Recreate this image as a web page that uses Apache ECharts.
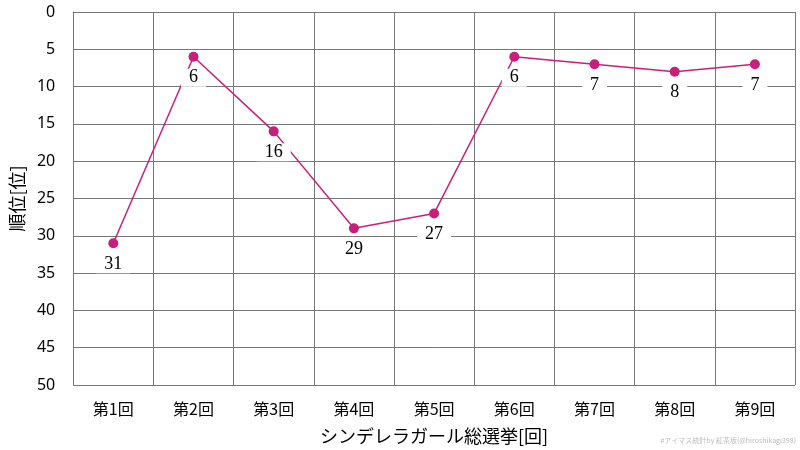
<!DOCTYPE html>
<html><head><meta charset="utf-8">
<script src="https://cdn.jsdelivr.net/npm/echarts@6/dist/echarts.min.js"></script>
<style>html,body{margin:0;padding:0;background:#fff}#c{width:800px;height:450px}</style>
</head><body><div id="c"></div>
<script>
const categories = ['第1回','第2回','第3回','第4回','第5回','第6回','第7回','第8回','第9回'];
const ranks = [31,6,16,29,27,6,7,8,7];
const yTicks = {min:0,max:50,interval:5};
const font = '"Liberation Serif","Noto Sans CJK JP",serif';
const chart = echarts.init(document.getElementById('c'));
chart.setOption({
  animation:false,
  grid:{left:70,right:5,top:12,bottom:65},
  xAxis:{type:'category',data:categories,boundaryGap:true,
    name:'シンデレラガール総選挙[回]',nameLocation:'middle',nameGap:42,
    nameTextStyle:{fontFamily:'"Noto Sans CJK JP"',fontSize:18,color:'#000'},
    axisLine:{lineStyle:{color:'#777'}},axisTick:{show:false},
    axisLabel:{fontFamily:'"Noto Sans CJK JP"',fontSize:16,color:'#000',margin:16},
    splitLine:{show:true,interval:0,lineStyle:{color:'#777'}}},
  yAxis:{type:'value',inverse:true,min:yTicks.min,max:yTicks.max,interval:yTicks.interval,
    name:'順位[位]',nameLocation:'middle',nameGap:46,
    nameTextStyle:{fontFamily:'"Noto Sans CJK JP"',fontSize:18,color:'#000'},
    axisLine:{show:true,lineStyle:{color:'#777'}},axisTick:{show:false},
    axisLabel:{fontFamily:'"Noto Sans"',fontSize:16,color:'#000',margin:18},
    splitLine:{lineStyle:{color:'#777'}}},
  series:[{type:'line',data:ranks,symbol:'circle',symbolSize:10,
    itemStyle:{color:'#c8207a'},lineStyle:{color:'#c8207a',width:1.5},
    label:{show:true,position:'bottom',distance:7,fontFamily:font,fontSize:18,color:'#000',
      backgroundColor:'#fff',padding:[0,8]}}],
  graphic:[{type:'text',right:4,bottom:6,style:{text:'#アイマス統計by 紅茶坂(@hiroshikagi398)',
    fontSize:7,fill:'#bbb',fontFamily:'"Noto Sans CJK JP"'}}]
});
</script></body></html>
